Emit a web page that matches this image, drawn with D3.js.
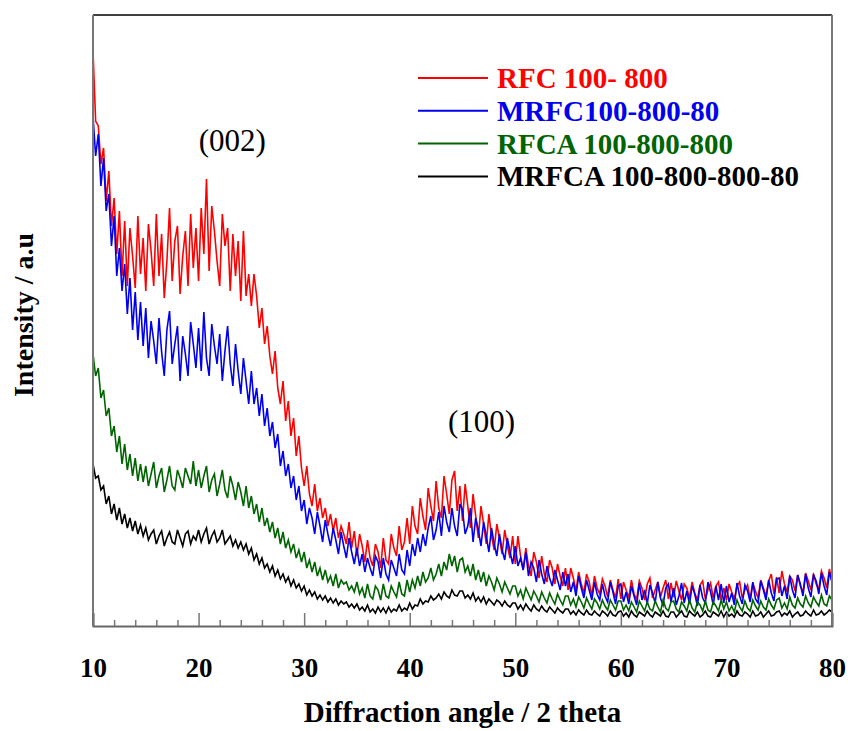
<!DOCTYPE html>
<html>
<head>
<meta charset="utf-8">
<script src="https://cdn.jsdelivr.net/npm/d3@7"></script>
<style>
  body { margin: 0; background: #fff; }
  svg { display: block; }
</style>
</head>
<body>
<script>
// XRD patterns, 2theta from 10 to 80 in 0.25 degree steps (20 values per 5 degrees)
const startAngle = 10;
const stepAngle = 0.25;

const rfc = [
  575,505,500,462,478,425,455,400,428,372,415,350,405,340,398,370,338,410,352,388,
  335,402,375,340,412,350,392,328,365,418,345,385,400,332,370,395,340,412,358,398,
  345,418,372,447,355,420,395,365,340,412,380,398,335,392,350,385,325,395,330,352,
  320,352,330,298,318,282,300,270,252,275,238,222,245,205,225,190,208,170,190,158,
  140,160,132,120,142,115,128,108,118,100,112,95,108,88,100,92,82,104,78,95,
  70,92,80,64,86,68,60,82,74,58,88,66,62,92,78,70,100,76,84,108,
  82,120,100,92,128,110,96,138,120,105,145,118,108,150,132,112,146,155,115,140,
  105,142,120,98,132,110,88,120,102,82,112,90,76,102,88,72,96,80,68,90,
  62,90,70,56,78,60,50,74,64,48,70,52,44,66,58,42,62,50,40,58,
  36,58,48,35,54,42,33,52,44,30,50,38,32,47,40,29,46,36,28,47,
  27,44,36,28,46,32,27,45,38,26,42,48,28,36,44,29,38,46,27,43,
  29,45,35,26,42,38,28,44,33,26,41,45,27,36,43,28,40,44,26,38,
  26,42,34,27,40,44,28,36,41,27,43,35,28,46,38,30,45,52,32,49,
  33,55,42,34,50,46,35,51,40,34,53,45,36,52,42,37,55,48,38,57,
  44
];

const mrfc = [
  510,470,492,440,468,415,432,380,410,350,378,335,362,312,348,296,334,286,324,280,
  318,268,305,285,262,308,274,250,296,315,262,282,300,245,290,272,250,304,282,258,
  298,255,314,268,250,302,280,262,292,245,275,300,262,240,282,255,232,268,245,222,
  255,222,238,210,232,200,218,190,204,178,192,160,175,150,162,138,150,126,140,115,
  126,102,118,108,92,114,100,84,106,92,80,98,86,72,94,80,68,88,74,62,
  78,60,72,54,68,58,50,70,64,48,68,52,46,66,58,50,72,56,52,76,
  60,82,70,88,74,92,80,98,110,86,96,114,90,120,104,94,118,100,90,122,
  116,92,100,118,84,108,96,80,104,90,74,98,82,70,92,76,66,88,74,62,
  80,60,68,56,74,50,64,58,44,66,52,42,60,48,40,56,46,36,54,40,
  52,34,44,30,50,38,28,46,36,26,44,32,26,42,30,24,44,34,22,40,
  42,24,34,22,40,30,21,43,26,36,22,41,33,23,44,28,21,38,42,24,
  38,21,30,43,23,35,22,40,32,20,41,28,23,44,34,21,40,26,42,23,
  40,24,33,21,43,30,22,41,35,24,44,27,23,45,36,26,46,33,25,47,
  48,30,40,27,50,36,28,51,42,30,52,38,29,51,45,32,53,40,31,54,
  44
];

const rfca = [
  272,250,258,228,236,210,218,190,200,174,190,162,182,156,172,150,168,145,162,144,
  160,140,152,164,138,150,158,134,146,160,140,136,156,148,138,158,150,142,165,140,
  156,138,150,160,134,146,152,130,142,156,136,128,150,140,126,144,134,120,140,118,
  130,112,122,104,118,100,108,94,104,88,98,82,94,78,86,74,82,68,76,64,
  74,58,66,54,64,50,58,46,56,44,50,40,52,38,46,42,44,36,40,34,
  44,32,38,28,42,30,27,40,36,26,42,30,28,40,34,29,44,32,30,46,
  34,46,38,50,40,54,44,48,58,46,52,62,50,64,56,72,60,70,54,66,
  68,54,60,50,62,46,56,44,54,40,50,44,36,48,42,34,44,38,32,40,
  40,30,36,27,38,32,26,35,30,24,34,28,23,33,27,22,32,26,21,30,
  30,21,27,19,29,24,18,28,22,17,27,23,17,26,20,16,26,21,16,25,
  25,16,21,15,24,19,14,25,20,15,24,17,15,25,19,14,26,18,15,24,
  25,17,14,24,20,15,26,18,14,24,21,15,25,16,14,24,20,15,26,17,
  24,15,20,14,26,19,15,25,18,15,26,20,16,25,19,16,27,21,17,26,
  28,18,23,17,29,21,18,28,22,19,30,23,19,29,24,20,31,22,20,30,
  26
];

const mrfca = [
  162,148,150,136,140,122,130,112,122,106,118,102,112,98,108,95,105,92,101,90,
  98,86,92,96,82,90,95,80,88,94,84,82,96,88,80,92,95,82,90,86,
  96,84,92,98,82,90,95,84,88,96,82,86,90,80,86,78,84,76,82,72,
  78,66,72,62,68,58,62,54,60,50,56,47,52,44,49,40,46,38,42,35,
  40,31,36,30,34,27,31,26,30,24,28,23,27,21,25,22,24,19,22,18,
  22,16,19,15,21,14,17,13,19,14,18,13,19,14,17,15,21,15,18,16,
  23,17,21,20,27,22,25,24,30,26,28,32,27,34,30,28,36,31,30,35,
  35,28,31,27,33,25,29,24,29,22,27,24,21,26,24,20,25,21,19,23,
  23,17,21,16,22,18,15,21,17,15,20,16,14,19,16,13,18,15,13,17,
  17,12,15,11,16,13,11,16,12,11,15,12,10,15,13,10,15,11,10,14,
  15,10,13,9,15,11,9,14,12,10,15,11,9,14,12,10,15,10,9,14,
  14,9,12,15,10,9,15,12,10,14,9,11,15,10,9,14,12,10,15,9,
  14,10,12,9,15,11,10,14,12,9,15,10,11,14,9,12,15,10,11,14,
  15,10,13,11,15,9,12,14,10,11,15,12,10,16,11,12,15,11,13,16,
  14
];

const seriesNames = ["RFC 100- 800", "MRFC100-800-80", "RFCA 100-800-800", "MRFCA 100-800-800-80"];
const seriesColors = ["#ff0000", "#0000ee", "#006400", "#000000"];
const seriesData = [rfc, mrfc, rfca, mrfca];

const majorTicks = [10, 20, 30, 40, 50, 60, 70, 80];
const minorTicks = [12, 14, 16, 18, 22, 24, 26, 28, 32, 34, 36, 38, 42, 44, 46, 48,
  52, 54, 56, 58, 62, 64, 66, 68, 72, 74, 76, 78];

const peakLabels = [
  { text: "(002)", angle: 23.2, value: 475 },
  { text: "(100)", angle: 46.8, value: 194 }
];

const width = 848;
const height = 731;
const margin = { top: 15, right: 16, bottom: 105, left: 93 };
const serif = "'Times New Roman', 'Liberation Serif', serif";

const x = d3.scaleLinear()
  .domain([10, 80])
  .range([margin.left, width - margin.right]);

const y = d3.scaleLinear()
  .domain([0, 611])
  .range([height - margin.bottom, margin.top]);

const svg = d3.select("body").append("svg")
  .attr("width", width)
  .attr("height", height)
  .attr("viewBox", [0, 0, width, height]);

const line = d3.line()
  .x((d, i) => x(startAngle + i * stepAngle))
  .y(d => y(d));

// draw the patterns
svg.append("g")
  .selectAll("path")
  .data(seriesData)
  .join("path")
  .attr("fill", "none")
  .attr("stroke", (d, i) => seriesColors[i])
  .attr("stroke-width", 1.6)
  .attr("stroke-linejoin", "miter")
  .attr("d", line);

// frame
const x0 = x.range()[0], x1 = x.range()[1];
const y0 = y.range()[0], y1 = y.range()[1];
svg.append("line").attr("x1", x0).attr("x2", x1).attr("y1", y1).attr("y2", y1)
  .attr("stroke", "#000").attr("stroke-width", 1.5);
svg.append("line").attr("x1", x0).attr("x2", x0).attr("y1", y1).attr("y2", y0)
  .attr("stroke", "#777").attr("stroke-width", 2);
svg.append("line").attr("x1", x1).attr("x2", x1).attr("y1", y1).attr("y2", y0)
  .attr("stroke", "#777").attr("stroke-width", 2);

// bottom axis with inward ticks
const xAxis = svg.append("g")
  .attr("transform", `translate(0,${y0})`)
  .call(d3.axisBottom(x).tickValues(majorTicks).tickSize(-13).tickPadding(32).tickFormat(d3.format("d")))
  .call(g => g.select(".domain").attr("stroke", "#666").attr("stroke-width", 2));
xAxis.selectAll(".tick line").attr("stroke", "#777").attr("stroke-width", 1.5);
xAxis.selectAll(".tick text")
  .attr("fill", "#000")
  .attr("font-family", serif)
  .attr("font-weight", "bold")
  .attr("font-size", 27);

svg.append("g")
  .attr("transform", `translate(0,${y0})`)
  .call(d3.axisBottom(x).tickValues(minorTicks).tickSize(-6).tickFormat(""))
  .call(g => g.select(".domain").remove())
  .selectAll(".tick line").attr("stroke", "#777").attr("stroke-width", 1.5);

// axis titles
svg.append("text")
  .attr("x", (x0 + x1) / 2)
  .attr("y", 722)
  .attr("text-anchor", "middle")
  .attr("font-family", serif)
  .attr("font-weight", "bold")
  .attr("font-size", 29)
  .text("Diffraction angle / 2 theta");

svg.append("text")
  .attr("transform", "translate(33,315) rotate(-90)")
  .attr("text-anchor", "middle")
  .attr("font-family", serif)
  .attr("font-weight", "bold")
  .attr("font-size", 28)
  .text("Intensity / a.u");

// peak annotations
svg.append("g")
  .selectAll("text")
  .data(peakLabels)
  .join("text")
  .attr("x", d => x(d.angle))
  .attr("y", d => y(d.value))
  .attr("text-anchor", "middle")
  .attr("font-family", serif)
  .attr("font-size", 31)
  .text(d => d.text);

// legend
const legend = svg.append("g")
  .selectAll("g")
  .data(seriesNames)
  .join("g")
  .attr("transform", (d, i) => `translate(418,${78 + i * 32.8})`);

legend.append("line")
  .attr("x1", 0).attr("x2", 70)
  .attr("stroke", (d, i) => seriesColors[i])
  .attr("stroke-width", 2);

legend.append("text")
  .attr("x", 79)
  .attr("y", 10)
  .attr("fill", (d, i) => seriesColors[i])
  .attr("font-family", serif)
  .attr("font-weight", "bold")
  .attr("font-size", 29)
  .text(d => d);
</script>
</body>
</html>
